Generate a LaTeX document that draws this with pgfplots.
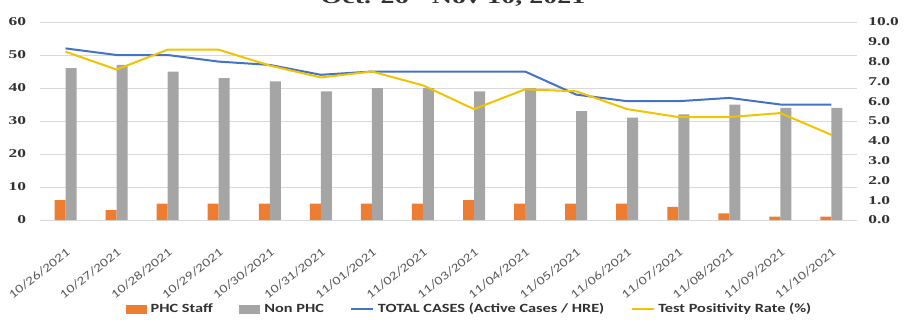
\documentclass[border=0pt]{standalone}
\usepackage{fontspec}
\setmainfont{Carlito}[FakeStretch=1.27]
\newfontfamily\tickfont{Liberation Serif}[FakeStretch=1.45]
\newfontfamily\legfont{Carlito}[FakeStretch=1.3]
\usepackage{pgfplots}
\pgfplotsset{compat=1.18}
\definecolor{phc}{RGB}{237,125,49}
\definecolor{nonphc}{RGB}{165,165,165}
\definecolor{tot}{RGB}{68,114,196}
\definecolor{tpr}{RGB}{240,196,0}
\definecolor{gridc}{RGB}{217,217,217}
\definecolor{datec}{RGB}{89,89,89}
\definecolor{tickc}{RGB}{50,50,50}
\pgfplotsset{
  barleg/.style={legend image code/.code={\fill[##1] (0pt,-3.4pt) rectangle (15.75pt,3.4pt);}},
  lineleg/.style={legend image code/.code={\draw[##1, line width=1pt] (0pt,0pt) -- (16.5pt,0pt);}},
}
\begin{document}
\begin{tikzpicture}
\begin{axis}[
  at={(30pt,74.25pt)}, anchor=south west,
  scale only axis, width=612.75pt, height=148.5pt,
  xmin=-0.5, xmax=15.5, ymin=0, ymax=60,
  ybar=0pt, bar width=8.25pt,
  xtick={0,...,15},
  xticklabels={10/26/2021,10/27/2021,10/28/2021,10/29/2021,10/30/2021,10/31/2021,11/01/2021,11/02/2021,11/03/2021,11/04/2021,11/05/2021,11/06/2021,11/07/2021,11/08/2021,11/09/2021,11/10/2021},
  x tick label style={rotate=38, anchor=north east, font=\fontsize{9}{10}\selectfont, text=datec, inner sep=1pt, xshift=-11.5pt, yshift=-15pt},
  ytick={0,10,...,60},
  y tick label style={font=\tickfont\bfseries\fontsize{9}{11}\selectfont, text=tickc, xshift=-7pt},
  /pgf/number format/assume math mode=true,
  major tick length=0pt,
  ymajorgrids, grid style={gridc, line width=0.75pt},
  axis line style={draw=none},
  axis x line*=bottom, axis y line*=left,
  x axis line style={draw=gridc, line width=0.75pt},
  legend columns=-1,
  legend style={at={(0.526,-0.45)}, anchor=center, draw=none, fill=none,
    font=\legfont\bfseries\fontsize{9.4}{11}\selectfont, text=tickc,
    /tikz/every odd column/.append style={column sep=1pt},
    /tikz/every even column/.append style={column sep=18pt}},
  legend cell align=left,
]
\addplot[fill=phc, draw=none, barleg] coordinates {
(0,6)(1,3)(2,5)(3,5)(4,5)(5,5)(6,5)(7,5)(8,6)(9,5)(10,5)(11,5)(12,4)(13,2)(14,1)(15,1)};
\addlegendentry{PHC Staff}
\addplot[fill=nonphc, draw=none, barleg] coordinates {
(0,46)(1,47)(2,45)(3,43)(4,42)(5,39)(6,40)(7,40)(8,39)(9,40)(10,33)(11,31)(12,32)(13,35)(14,34)(15,34)};
\addlegendentry{Non PHC}
\addplot[sharp plot, tot, line width=1.5pt, mark=none, lineleg] coordinates {
(0,52)(1,50)(2,50)(3,48)(4,47)(5,44)(6,45)(7,45)(8,45)(9,45)(10,38)(11,36)(12,36)(13,37)(14,35)(15,35)};
\addlegendentry{TOTAL CASES  (Active Cases / HRE)}
\addlegendimage{tpr, lineleg}
\addlegendentry{Test Positivity Rate (\%)}
\end{axis}
\begin{axis}[
  at={(30pt,74.25pt)}, anchor=south west,
  scale only axis, width=612.75pt, height=148.5pt,
  xmin=-0.5, xmax=15.5, ymin=0, ymax=10,
  axis x line=none, axis y line*=right,
  axis line style={draw=none},
  ytick={0,1,...,10},
  major tick length=0pt,
  yticklabel style={/pgf/number format/fixed, /pgf/number format/fixed zerofill, /pgf/number format/precision=1,
    font=\tickfont\bfseries\fontsize{9}{11}\selectfont, text=tickc, xshift=5pt},
  /pgf/number format/assume math mode=true,
]
\addplot[tpr, line width=1.5pt, mark=none] coordinates {
(0,8.5)(1,7.6)(2,8.6)(3,8.6)(4,7.8)(5,7.2)(6,7.5)(7,6.8)(8,5.6)(9,6.6)(10,6.5)(11,5.6)(12,5.2)(13,5.2)(14,5.4)(15,4.3)};
\end{axis}
\node[anchor=base, font=\tickfont\bfseries\fontsize{14.5}{17}\selectfont, text=tickc] at (339.75pt,236.5pt) {Oct. 26 - Nov 10, 2021};
\pgfresetboundingbox
\useasboundingbox (0,0) rectangle (678.75pt,239.25pt);
\end{tikzpicture}
\end{document}
